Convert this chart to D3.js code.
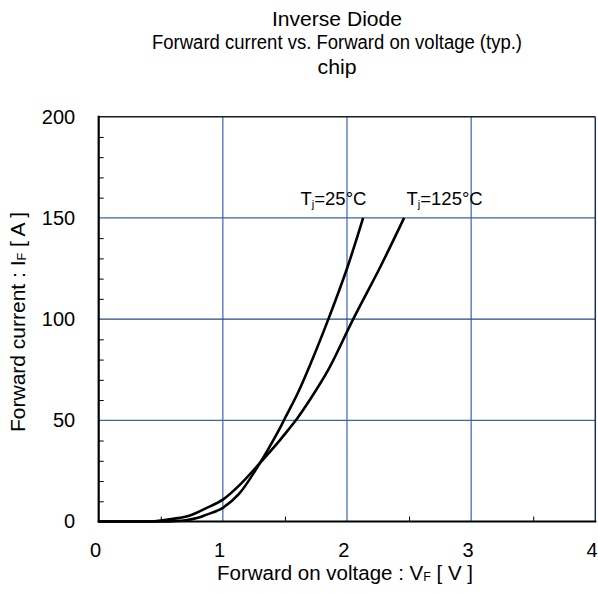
<!DOCTYPE html>
<html>
<head>
<meta charset="utf-8">
<script src="https://cdn.jsdelivr.net/npm/d3@7"></script>
<style>
  body { margin: 0; background: #fff; }
  text { font-family: "Liberation Sans", Arial, sans-serif; fill: #000; }
</style>
</head>
<body>
<div id="chart"></div>
<script>
// curve data (V, A)
var vf25 = [0, 0.3, 0.5, 0.6, 0.7, 0.8, 0.87, 0.95, 1.0, 1.13, 1.3, 1.45, 1.5, 1.6, 1.7, 1.85, 2.0, 2.13];
var if25 = [0, 0, 0.05, 0.2, 0.6, 1.8, 3.4, 5.2, 6.7, 13.6, 29, 45, 51, 63, 77, 100, 125, 150];

var vf125 = [0, 0.3, 0.45, 0.6, 0.735, 0.87, 1.0, 1.13, 1.3, 1.45, 1.53, 1.6, 1.7, 1.85, 2.05, 2.27, 2.46];
var if125 = [0, 0, 0.1, 1.3, 3.0, 6.7, 10.8, 17.7, 29, 39.5, 45.5, 51, 60, 75, 100, 126, 150];

var xTicks = [0, 1, 2, 3, 4];
var xMinor = [0.5, 1.5, 2.5, 3.5];
var yTicks = [0, 50, 100, 150, 200];
var yMinor = [10, 20, 30, 40, 60, 70, 80, 90, 110, 120, 130, 140, 160, 170, 180, 190];

var titleLines = ["Inverse Diode", "Forward current vs. Forward on voltage (typ.)", "chip"];
var titleWidths = [130, 370, 39];

var width = 598, height = 593;
var margin = {left: 98.7, right: 2.7, top: 116.7, bottom: 71.5};

var svg = d3.select("#chart").append("svg")
    .attr("width", width)
    .attr("height", height);

var x = d3.scaleLinear().domain([0, 4]).range([margin.left, width - margin.right]);
var y = d3.scaleLinear().domain([0, 200]).range([height - margin.bottom, margin.top]);

var blue = "#3a63b0";

// grid
svg.append("g").selectAll("line")
    .data(xTicks.slice(1, -1))
    .join("line")
    .attr("x1", d => x(d)).attr("x2", d => x(d))
    .attr("y1", y(0)).attr("y2", y(200))
    .attr("stroke", blue).attr("stroke-width", 1.2);

svg.append("g").selectAll("line")
    .data(yTicks.slice(1, -1))
    .join("line")
    .attr("x1", x(0)).attr("x2", x(4))
    .attr("y1", d => y(d)).attr("y2", d => y(d))
    .attr("stroke", d => d == 100 ? "#2a4680" : blue).attr("stroke-width", 1.2);

// minor ticks (inside)
svg.append("g")
    .attr("transform", "translate(" + x(0) + ",0)")
    .call(d3.axisLeft(y).tickValues(yMinor).tickSize(-5).tickFormat(""))
    .call(g => g.select(".domain").remove())
    .selectAll("line").attr("stroke", "#000").attr("stroke-width", 1);

svg.append("g")
    .attr("transform", "translate(0," + y(0) + ")")
    .call(d3.axisBottom(x).tickValues(xMinor).tickSize(-5).tickFormat(""))
    .call(g => g.select(".domain").remove())
    .selectAll("line").attr("stroke", "#000").attr("stroke-width", 1);

// frame
svg.append("line")
    .attr("x1", x(0)).attr("x2", x(4)).attr("y1", y(200)).attr("y2", y(200))
    .attr("stroke", "#1a1a2a").attr("stroke-width", 1.5);
svg.append("line")
    .attr("x1", x(4)).attr("x2", x(4)).attr("y1", y(0)).attr("y2", y(200))
    .attr("stroke", "#1f2f55").attr("stroke-width", 1.5);
svg.append("line")
    .attr("x1", x(0)).attr("x2", x(0)).attr("y1", y(0) + 1).attr("y2", y(200) - 1)
    .attr("stroke", "#000").attr("stroke-width", 2.2);
svg.append("line")
    .attr("x1", x(0) - 1).attr("x2", x(4) + 1).attr("y1", y(0)).attr("y2", y(0))
    .attr("stroke", "#000").attr("stroke-width", 2.2);

// tick labels
var yAxis = svg.append("g")
    .attr("transform", "translate(" + x(0) + ",0)")
    .call(d3.axisLeft(y).tickValues(yTicks).tickSize(0).tickPadding(23.5));
yAxis.select(".domain").remove();
yAxis.selectAll("text").attr("font-size", 20).attr("font-family", "Liberation Sans, Arial, sans-serif");

var xAxis = svg.append("g")
    .attr("transform", "translate(-3.7," + y(0) + ")")
    .call(d3.axisBottom(x).tickValues(xTicks).tickSize(0).tickPadding(21.5).tickFormat(d3.format("d")));
xAxis.select(".domain").remove();
xAxis.selectAll("text").attr("font-size", 20).attr("font-family", "Liberation Sans, Arial, sans-serif");

// curves
var line = d3.line()
    .x(d => x(d[0]))
    .y(d => y(d[1]))
    .curve(d3.curveCatmullRom.alpha(0.5));

var series = [d3.zip(vf25, if25), d3.zip(vf125, if125)];

svg.append("g").selectAll("path")
    .data(series)
    .join("path")
    .attr("d", line)
    .attr("fill", "none")
    .attr("stroke", "#000")
    .attr("stroke-width", 2.6)
    .attr("stroke-linejoin", "round");

// curve labels
function subLabel(px, py, sub, rest, size) {
    var t = svg.append("text").attr("x", px).attr("y", py).attr("font-size", size);
    t.append("tspan").text("T");
    t.append("tspan").attr("font-size", size * 0.6).attr("dy", 2.5).text(sub);
    t.append("tspan").attr("dy", -2.5).text(rest);
}
subLabel(300.5, 205, "j", "=25°C", 18.5);
subLabel(406.5, 205, "j", "=125°C", 18.5);

// title
svg.append("g").selectAll("text")
    .data(titleLines)
    .join("text")
    .attr("x", 337)
    .attr("y", (d, i) => [25.7, 48.5, 73.5][i])
    .attr("text-anchor", "middle")
    .attr("font-size", 20)
    .attr("textLength", (d, i) => titleWidths[i])
    .attr("lengthAdjust", "spacingAndGlyphs")
    .text(d => d);

// axis titles
var xt = svg.append("text")
    .attr("x", 345).attr("y", 580)
    .attr("text-anchor", "middle")
    .attr("font-size", 20.5);
xt.append("tspan").text("Forward on voltage : V");
xt.append("tspan").attr("font-size", 12.5).attr("dy", 1).text("F");
xt.append("tspan").attr("dy", -1).text(" [ V ]");

var yt = svg.append("text")
    .attr("transform", "translate(25,322) rotate(-90)")
    .attr("text-anchor", "middle")
    .attr("font-size", 21);
yt.append("tspan").text("Forward current : I");
yt.append("tspan").attr("font-size", 12.5).attr("dy", 1).text("F");
yt.append("tspan").attr("dy", -1).text(" [ A ]");
</script>
</body>
</html>
